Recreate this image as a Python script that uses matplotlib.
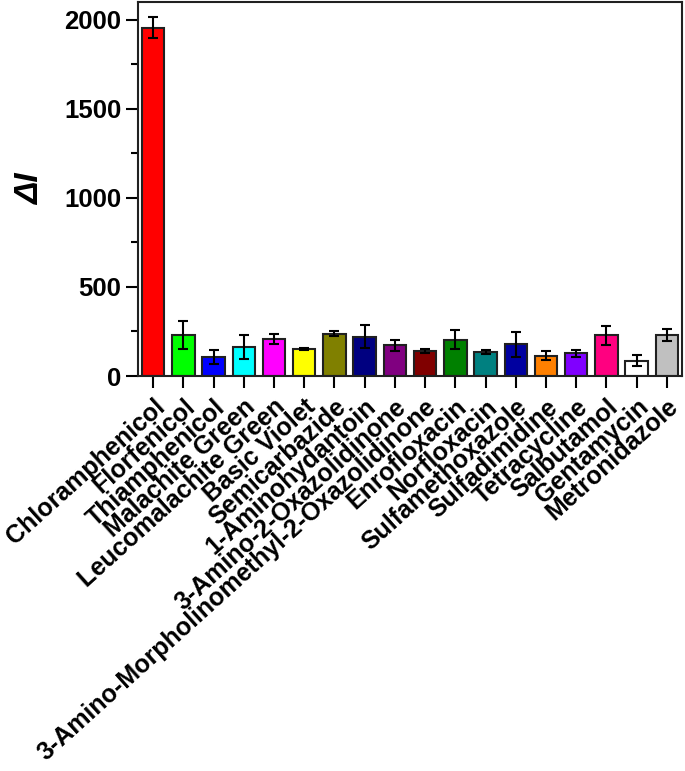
import matplotlib
matplotlib.use("Agg")
import matplotlib.pyplot as plt
from matplotlib.ticker import MultipleLocator

plt.rcParams["font.family"] = ["Liberation Sans", "DejaVu Sans"]
plt.rcParams["font.weight"] = "bold"

compounds = [
    "Chloramphenicol", "Florfenicol", "Thiamphenicol", "Malachite Green",
    "Leucomalachite Green", "Basic Violet", "Semicarbazide", "1-Aminohydantoin",
    "3-Amino-2-Oxazolidinone", "3-Amino-Morpholinomethyl-2-Oxazolidinone",
    "Enrofloxacin", "Norfloxacin", "Sulfamethoxazole", "Sulfadimidine",
    "Tetracycline", "Salbutamol", "Gentamycin", "Metronidazole",
]
delta_i = [1955, 229, 107, 164, 208, 153, 238, 220, 173, 141,
           205, 136, 177, 115, 128, 228, 87, 230]
errors = [58, 79, 39, 67, 28, 7, 16, 64, 30, 12,
          55, 12, 70, 25, 20, 52, 32, 33]
colors = ["#FF0000", "#00FF00", "#0000FF", "#00FFFF", "#FF00FF", "#FFFF00",
          "#808000", "#000080", "#800080", "#800000", "#008000", "#008080",
          "#0000A0", "#FF8000", "#8000FF", "#FF0080", "#FFFFFF", "#C0C0C0"]

fig = plt.figure(figsize=(6.85, 7.71), dpi=100)
ax = fig.add_axes([0.2015, 0.5123, 0.7941, 0.4851])

x = range(len(compounds))
ax.bar(x, delta_i, width=0.74, color=colors, edgecolor="#202020", linewidth=1.5,
       yerr=errors, capsize=3.3,
       error_kw=dict(ecolor="black", elinewidth=1.5, capthick=1.5))

ax.set_xlim(-0.5, len(compounds) - 0.5)
ax.set_ylim(0, 2100)
ax.yaxis.set_major_locator(MultipleLocator(500))
ax.yaxis.set_minor_locator(MultipleLocator(250))
ax.set_xticks(list(x))
ax.set_xticklabels(compounds, rotation=42, ha="right", rotation_mode="anchor",
                   fontsize=18, fontweight="bold")
for lbl in ax.get_yticklabels():
    lbl.set_fontsize(18.5)
    lbl.set_fontweight("bold")

ax.tick_params(axis="both", which="major", direction="out", length=8.5, width=1.5)
ax.tick_params(axis="y", which="minor", direction="out", length=5, width=1.5)
ax.tick_params(axis="x", which="major", pad=5)
for sp in ax.spines.values():
    sp.set_linewidth(1.5)
    sp.set_color("#202020")

ax.set_ylabel("ΔI", fontsize=24, fontweight="bold", style="italic", labelpad=13)

fig.savefig("out.png", dpi=100)
